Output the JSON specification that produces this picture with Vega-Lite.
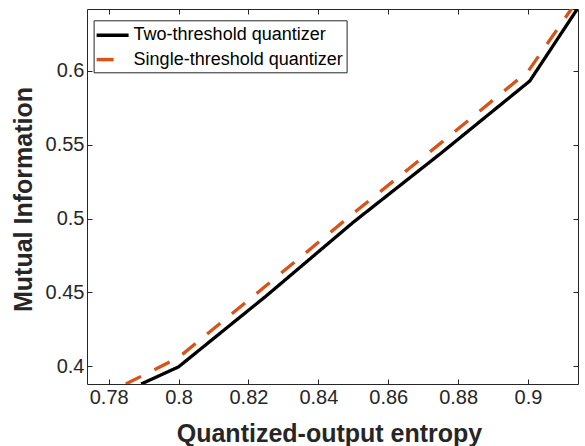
{
  "$schema": "https://vega.github.io/schema/vega-lite/v6.json",
  "width": 491,
  "height": 375,
  "autosize": "none",
  "padding": {"left": 87, "top": 9, "right": 7, "bottom": 62},
  "background": "white",
  "config": {
    "font": "Liberation Sans",
    "view": {"stroke": "#262626", "strokeWidth": 1}
  },
  "data": {
    "values": [
      {"entropy": 0.7893, "mi": 0.3881, "series": "Two-threshold quantizer"},
      {"entropy": 0.8, "mi": 0.3997, "series": "Two-threshold quantizer"},
      {"entropy": 0.825, "mi": 0.4475, "series": "Two-threshold quantizer"},
      {"entropy": 0.85, "mi": 0.4975, "series": "Two-threshold quantizer"},
      {"entropy": 0.875, "mi": 0.544, "series": "Two-threshold quantizer"},
      {"entropy": 0.9005, "mi": 0.593, "series": "Two-threshold quantizer"},
      {"entropy": 0.9143, "mi": 0.6424, "series": "Two-threshold quantizer"},
      {"entropy": 0.7849, "mi": 0.3881, "series": "Single-threshold quantizer"},
      {"entropy": 0.8, "mi": 0.406, "series": "Single-threshold quantizer"},
      {"entropy": 0.825, "mi": 0.4545, "series": "Single-threshold quantizer"},
      {"entropy": 0.85, "mi": 0.5035, "series": "Single-threshold quantizer"},
      {"entropy": 0.875, "mi": 0.551, "series": "Single-threshold quantizer"},
      {"entropy": 0.9, "mi": 0.5995, "series": "Single-threshold quantizer"},
      {"entropy": 0.9125, "mi": 0.642, "series": "Single-threshold quantizer"}
    ]
  },
  "layer": [
    {
      "mark": {"type": "line", "strokeWidth": 3.3, "clip": true, "strokeCap": "butt"},
      "encoding": {
        "x": {
          "field": "entropy", "type": "quantitative",
          "scale": {"domain": [0.7738, 0.9143], "nice": false, "zero": false},
          "axis": {
            "orient": "bottom", "values": [0.78, 0.8, 0.82, 0.84, 0.86, 0.88, 0.9],
            "format": ".2~f", "grid": false, "domain": false,
            "tickSize": -5, "tickColor": "#262626", "tickWidth": 1,
            "labelFontSize": 20, "labelColor": "#262626", "labelPadding": 8,
            "title": "Quantized-output entropy", "titleFontSize": 25, "titleFontWeight": "bold",
            "titleColor": "#262626", "titleX": 242, "titleY": 57, "titleBaseline": "alphabetic"
          }
        },
        "y": {
          "field": "mi", "type": "quantitative",
          "scale": {"domain": [0.3881, 0.6417], "nice": false, "zero": false},
          "axis": {
            "orient": "left", "values": [0.4, 0.45, 0.5, 0.55, 0.6],
            "format": ".2~f", "grid": false, "domain": false,
            "tickSize": -5, "tickColor": "#262626", "tickWidth": 1,
            "labelFontSize": 20, "labelColor": "#262626", "labelPadding": 8,
            "title": "Mutual Information", "titleFontSize": 25, "titleFontWeight": "bold",
            "titleColor": "#262626", "titleAngle": -90, "titleX": -64, "titleY": 190,
            "titleBaseline": "middle", "titleAlign": "center"
          }
        },
        "color": {
          "field": "series", "type": "nominal",
          "scale": {"domain": ["Two-threshold quantizer", "Single-threshold quantizer"], "range": ["#000000", "#D95319"]},
          "legend": {
            "orient": "none", "legendX": 6.6, "legendY": 11.3, "title": null,
            "labelFontSize": 18, "labelColor": "#000000", "labelLimit": 0,
            "symbolType": "M-1.6,0H1.6", "symbolSize": 400, "symbolStrokeWidth": 3.5,
            "symbolOffset": 4, "labelOffset": 9,
            "strokeColor": "#262626", "fillColor": "white", "padding": 3, "rowPadding": 3.3
          }
        },
        "strokeDash": {
          "field": "series", "type": "nominal",
          "scale": {"domain": ["Two-threshold quantizer", "Single-threshold quantizer"], "range": [[1, 0], [17, 15]]},
          "legend": {
            "orient": "none", "legendX": 6.6, "legendY": 11.3, "title": null,
            "labelFontSize": 18, "labelColor": "#000000", "labelLimit": 0,
            "symbolType": "M-1.6,0H1.6", "symbolSize": 400, "symbolStrokeWidth": 3.5,
            "symbolOffset": 4, "labelOffset": 9,
            "strokeColor": "#262626", "fillColor": "white", "padding": 3, "rowPadding": 3.3
          }
        }
      }
    },
    {
      "mark": {"type": "line", "opacity": 0},
      "encoding": {
        "x": {
          "field": "entropy", "type": "quantitative",
          "axis": {
            "orient": "top", "values": [0.78, 0.8, 0.82, 0.84, 0.86, 0.88, 0.9],
            "labels": false, "title": null, "grid": false, "domain": false,
            "tickSize": -5, "tickColor": "#262626", "tickWidth": 1
          }
        },
        "y": {
          "field": "mi", "type": "quantitative",
          "axis": {
            "orient": "right", "values": [0.4, 0.45, 0.5, 0.55, 0.6],
            "labels": false, "title": null, "grid": false, "domain": false,
            "tickSize": -5, "tickColor": "#262626", "tickWidth": 1
          }
        }
      }
    }
  ],
  "resolve": {"axis": {"x": "independent", "y": "independent"}}
}
